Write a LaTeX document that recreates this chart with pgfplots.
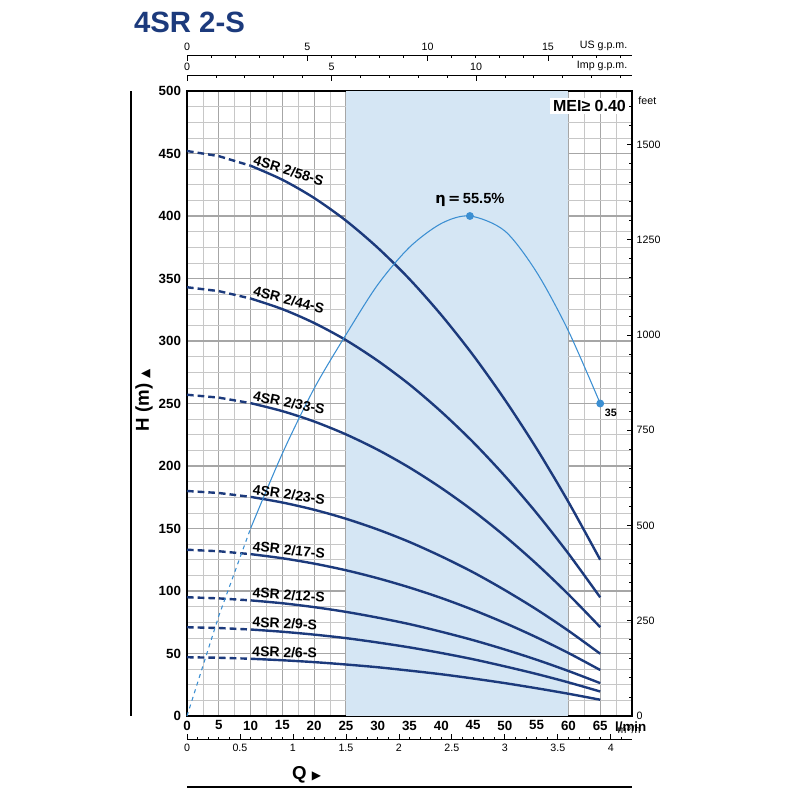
\documentclass[border=0pt]{standalone}
\usepackage{pgfplots}
\pgfplotsset{compat=1.18}
\usepackage{pgfplotstable}
\usepackage{fontspec}
\setmainfont{Liberation Sans}
\newfontfamily\symf{DejaVu Sans}
\definecolor{navy}{HTML}{1C3A7C}
\definecolor{eff}{HTML}{3C8FD2}
\definecolor{bandblue}{HTML}{D5E6F4}
\pgfplotstableread{
Q   a58   a44   a33   a23   a17   a12   a9   a6
0   452   343   257   180   133   95    71   47
5   447.9 339.9 254.7 178.4 131.8 94.1  70.4 46.6
10  440.2 334.0 250.3 175.3 129.5 92.5  69.2 45.8
15  429   325.5 243.9 170.8 126.2 90.2  67.4 44.6
20  414.4 314.4 235.6 165.0 121.9 87.1  65.1 43.1
25  396.3 300.7 225.3 157.8 116.6 83.3  62.3 41.2
30  374.6 284.2 213.0 149.2 110.2 78.7  58.8 39.0
35  349.5 265.2 198.7 139.2 102.8 73.5  54.9 36.3
40  320.8 243.4 182.4 127.7 94.4  67.4  50.4 33.4
45  288.7 219.1 164.2 115.0 84.9  60.7  45.4 30.0
50  253   192.0 143.9 100.7 74.4  53.2  39.7 26.3
55  213.9 162.3 121.6 85.2  62.9  45.0  33.6 22.2
60  171.2 129.9 97.3  68.2  50.4  36.0  26.9 17.8
65  125   94.9  71.1  49.8  36.8  26.3  19.6 13.0
}\pumps
\pgfplotstableread{
Q    e
0    0
5    80
10   150
15   210
20   262
25   305
30   345
35   375
40   394
44.5 400
50   388
55   355
60   308
65   250
}\effic
\begin{document}
\begin{tikzpicture}[x=1pt,y=1pt]
\path (0,0) rectangle (600,600);
\node[anchor=west,font=\fontsize{22}{22}\selectfont\bfseries,text=navy] at (97,583) {4SR 2-S};
\draw[line width=1.2pt] (98.25,63) -- (98.25,531.75);
\draw[line width=1.2pt] (140.25,9.75) -- (474,9.75);
\node[rotate=90,font=\fontsize{14}{14}\selectfont\bfseries] at (108,300) {H (m) {\symf\fontsize{9}{9}\selectfont ▲}};
\node[font=\fontsize{14}{14}\selectfont\bfseries] at (230,19) {Q {\symf\fontsize{9}{9}\selectfont ▶}};
\begin{axis}[
 scale only axis, width=333.75pt, height=468.75pt,
 at={(140.25pt,63pt)}, anchor=south west,
 xmin=0, xmax=70, ymin=0, ymax=500,
 xtick={0,5,...,65}, ytick={0,50,...,500},
 minor xtick={2.5,7.5,...,67.5}, minor ytick={12.5,25,...,487.5},
 grid=both,
 major grid style={color=black!35, line width=0.8pt},
 minor grid style={color=black!22, line width=0.5pt},
 axis line style={line width=1.2pt},
 tick style={draw=none},
 ticklabel style={font=\fontsize{10}{10}\selectfont\bfseries},
 /pgf/number format/assume math mode=true,
 yticklabel style={xshift=-1pt},
 clip=false,
 every axis plot/.append style={line width=1.8pt, navy}
]
\fill[bandblue] (axis cs:25,0) rectangle (axis cs:60,500);
\pgfplotsinvokeforeach{a58,a44,a33,a23,a17,a12,a9,a6}{
 \addplot[dashed, dash pattern=on 5pt off 3pt, restrict x to domain=0:10] table[x=Q,y=#1]{\pumps};
 \addplot[smooth, restrict x to domain=10:65] table[x=Q,y=#1]{\pumps};
}
\addplot[eff, line width=0.8pt, dashed, restrict x to domain=0:10] table[x=Q,y=e]{\effic};
\addplot[eff, line width=0.8pt, smooth, restrict x to domain=10:65] table[x=Q,y=e]{\effic};
\addplot[eff, only marks, mark=*, mark size=2pt] coordinates {(44.5,400) (65,250)};
\node[font=\fontsize{11}{11}\selectfont\bfseries, anchor=south] at (axis cs:44.5,404) {\symf η\,=\,\fontspec{Liberation Sans}55.5\%};
\node[font=\fontsize{8}{8}\selectfont\bfseries, anchor=north west] at (axis cs:65,249) {35};
\node[fill=white, font=\fontsize{12}{12}\selectfont\bfseries, anchor=north east, inner sep=2pt] at (axis cs:69.5,495) {MEI≥ 0.40};
\tikzset{lab/.style={font=\fontsize{10.5}{10.5}\selectfont\bfseries, anchor=south west, inner sep=1pt}}
\node[lab,rotate=-17] at (axis cs:10,440) {4SR 2/58-S};
\node[lab,rotate=-14] at (axis cs:10,335) {4SR 2/44-S};
\node[lab,rotate=-11] at (axis cs:10,251) {4SR 2/33-S};
\node[lab,rotate=-8] at (axis cs:10,176) {4SR 2/23-S};
\node[lab,rotate=-6] at (axis cs:10,130.5) {4SR 2/17-S};
\node[lab,rotate=-4] at (axis cs:10,93.5) {4SR 2/12-S};
\node[lab,rotate=-3] at (axis cs:10,70) {4SR 2/9-S};
\node[lab,rotate=-2] at (axis cs:10,46.5) {4SR 2/6-S};
\node[font=\fontsize{10}{10}\selectfont\bfseries, anchor=north west, inner sep=1pt] at (axis cs:67.1,-3) {l/min};
\end{axis}
\begin{axis}[
 scale only axis, width=333.75pt, height=468.75pt,
 at={(140.25pt,63pt)}, anchor=south west,
 xmin=0, xmax=70, ymin=0, ymax=1640.42,
 axis y line*=right, hide x axis,
 ytick={0,250,...,1500}, minor ytick={50,100,...,1600},
 ticklabel style={font=\fontsize{8}{8}\selectfont},
 /pgf/number format/assume math mode=true,
 /pgf/number format/1000 sep={},
 axis line style={draw=none},
 major tick length=4pt, minor tick length=2pt,
 tick style={black, line width=0.6pt},
 tick align=inside, clip=false]
\node[font=\fontsize{8}{8}\selectfont, anchor=west] at (axis cs:70,1615) {\,feet};
\end{axis}
\begin{axis}[
 scale only axis, width=333.75pt, height=1pt,
 at={(140.25pt,557.25pt)}, anchor=south west,
 xmin=0, xmax=18.494, ymin=0, ymax=1,
 axis x line*=top, hide y axis,
 xtick={0,5,10,15}, minor xtick={1,2,...,18},
 ticklabel style={font=\fontsize{8}{8}\selectfont},
 /pgf/number format/assume math mode=true,
 major tick length=4pt, minor tick length=2pt,
 tick style={black, line width=0.6pt}, axis line style={line width=0.6pt,-},
 clip=false]
\node[font=\fontsize{8}{8}\selectfont, anchor=south east] at (axis cs:18.494,1.3) {US g.p.m.};
\end{axis}
\begin{axis}[
 scale only axis, width=333.75pt, height=1pt,
 at={(140.25pt,542.25pt)}, anchor=south west,
 xmin=0, xmax=15.398, ymin=0, ymax=1,
 axis x line*=top, hide y axis,
 xtick={0,5,10}, minor xtick={1,2,...,15},
 ticklabel style={font=\fontsize{8}{8}\selectfont},
 /pgf/number format/assume math mode=true,
 major tick length=4pt, minor tick length=2pt,
 tick style={black, line width=0.6pt}, axis line style={line width=0.6pt,-},
 clip=false]
\node[font=\fontsize{8}{8}\selectfont, anchor=south east] at (axis cs:15.398,1.3) {Imp g.p.m.};
\end{axis}
\begin{axis}[
 scale only axis, width=333.75pt, height=1pt,
 at={(140.25pt,45.5pt)}, anchor=south west,
 xmin=0, xmax=4.2, ymin=0, ymax=1,
 axis x line*=bottom, hide y axis,
 xtick={0,0.5,...,4}, minor xtick={0.1,0.2,...,4.1},
 ticklabel style={font=\fontsize{8}{8}\selectfont},
 /pgf/number format/assume math mode=true,
 major tick length=4pt, minor tick length=2pt,
 tick style={black, line width=0.6pt}, axis line style={line width=0.6pt,-},
 clip=false]
\node[font=\fontsize{8}{8}\selectfont, anchor=south west] at (axis cs:4.02,0.5) {m\textsuperscript{3}/h};
\end{axis}
\end{tikzpicture}
\end{document}
